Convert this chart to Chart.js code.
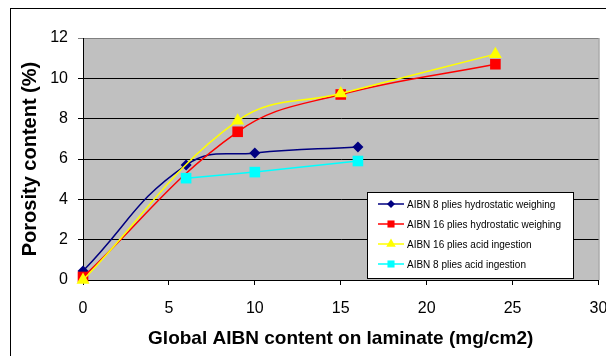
<!DOCTYPE html>
<html>
<head>
<meta charset="utf-8">
<script src="https://cdn.jsdelivr.net/npm/chart.js@4.4.1/dist/chart.umd.min.js"></script>
<style>
  html, body { margin: 0; padding: 0; background: #fff; }
  #wrap { width: 606px; height: 356px; }
</style>
</head>
<body>
<div id="wrap"><canvas id="chart" width="606" height="356"></canvas></div>
<script>
'use strict';

// Mesures : teneur en AIBN (mg/cm2) -> taux de porosité (%)
const xNavy = [0, 6, 10, 16];
const yNavy = [0.45, 5.7, 6.3, 6.6];

const xRed = [0, 9, 15, 24];
const yRed = [0.15, 7.35, 9.2, 10.7];

const xYellow = [0, 9, 15, 24];
const yYellow = [0, 7.9, 9.25, 11.2];

const xCyan = [6, 10, 16];
const yCyan = [5.05, 5.35, 5.9];

const seriesLabels = [
  'AIBN 8 plies hydrostatic weighing',
  'AIBN 16 plies hydrostatic weighing',
  'AIBN 16 plies acid ingestion',
  'AIBN 8 plies acid ingestion'
];

const xTicks = [0, 5, 10, 15, 20, 25, 30];
const yTicks = [0, 2, 4, 6, 8, 10, 12];

const FONT = '"Liberation Sans", Arial, sans-serif';

function toPoints(xs, ys) {
  return xs.map(function (x, i) {
    return { x: x, y: ys[i] };
  });
}

function serie(label, xs, ys, color, style, radius, tension, order) {
  return {
    label: label,
    data: toPoints(xs, ys),
    borderColor: color,
    backgroundColor: color,
    borderWidth: 1.5,
    pointStyle: style,
    pointRadius: radius,
    pointHoverRadius: radius,
    pointBorderWidth: 0,
    pointBackgroundColor: color,
    tension: tension,
    order: order,
    clip: false,
    fill: false
  };
}

const datasets = [
  serie(seriesLabels[0], xNavy, yNavy, '#000080', 'rectRot', 5.5, 0.45, 4),
  serie(seriesLabels[1], xRed, yRed, '#ff0000', 'rect', 7.5, 0.4, 3),
  serie(seriesLabels[2], xYellow, yYellow, '#ffff00', 'triangle', 7.5, 0.4, 2),
  serie(seriesLabels[3], xCyan, yCyan, '#00ffff', 'rect', 7.5, 0, 1)
];

// fond du graphique + zone de tracé grise
const fondPlugin = {
  id: 'fond',
  beforeDraw: function (chart) {
    const ctx = chart.ctx;
    const a = chart.chartArea;
    ctx.save();
    ctx.fillStyle = '#ffffff';
    ctx.fillRect(0, 0, chart.width, chart.height);
    ctx.fillStyle = '#c0c0c0';
    ctx.fillRect(a.left, a.top, a.right - a.left, a.bottom - a.top);
    ctx.strokeStyle = '#808080';
    ctx.lineWidth = 1;
    ctx.beginPath();
    ctx.moveTo(a.right + 0.5, a.top);
    ctx.lineTo(a.right + 0.5, a.bottom);
    ctx.stroke();
    ctx.restore();
  },
  afterDraw: function (chart) {
    const ctx = chart.ctx;
    ctx.save();
    ctx.strokeStyle = '#000000';
    ctx.lineWidth = 1;
    ctx.strokeRect(10.5, 8.5, 700, 400);
    ctx.restore();
  }
};

// légende dessinée dans la zone de tracé
const legendePlugin = {
  id: 'legende',
  afterDraw: function (chart) {
    const ctx = chart.ctx;
    const box = { x: 367.5, y: 192.5, w: 206, h: 86 };
    ctx.save();
    ctx.fillStyle = '#ffffff';
    ctx.fillRect(box.x, box.y, box.w, box.h);
    ctx.strokeStyle = '#000000';
    ctx.lineWidth = 1;
    ctx.strokeRect(box.x, box.y, box.w, box.h);

    ctx.font = '10px ' + FONT;
    ctx.textBaseline = 'middle';
    ctx.textAlign = 'left';
    const legendRadius = [4, 5, 5.5, 5];
    chart.data.datasets.forEach(function (ds, i) {
      const y = 204 + i * 20;
      ctx.strokeStyle = ds.borderColor;
      ctx.lineWidth = 1.5;
      ctx.beginPath();
      ctx.moveTo(378, y);
      ctx.lineTo(404, y);
      ctx.stroke();
      ctx.fillStyle = ds.borderColor;
      Chart.helpers.drawPoint(ctx, {
        pointStyle: ds.pointStyle,
        radius: legendRadius[i],
        rotation: 0,
        borderWidth: 0
      }, 391, y);
      ctx.fillStyle = '#000000';
      ctx.fillText(ds.label, 407, y + 1);
    });
    ctx.restore();
  }
};

new Chart(document.getElementById('chart').getContext('2d'), {
  type: 'line',
  data: { datasets: datasets },
  plugins: [fondPlugin, legendePlugin],
  options: {
    responsive: false,
    animation: false,
    events: [],
    layout: { padding: { left: 10, top: 38, right: 7, bottom: 0 } },
    plugins: {
      legend: { display: false },
      tooltip: { enabled: false }
    },
    scales: {
      x: {
        type: 'linear',
        min: 0,
        max: 30,
        afterBuildTicks: function (s) {
          s.ticks = xTicks.map(function (v) { return { value: v }; });
        },
        afterFit: function (s) {
          s.height = 76;
          s.paddingLeft = 0;
          s.paddingRight = 0;
        },
        grid: {
          drawOnChartArea: false,
          drawTicks: true,
          tickLength: 5,
          color: '#000000'
        },
        border: { color: '#000000' },
        ticks: {
          padding: 14,
          maxRotation: 0,
          color: '#000000',
          font: { family: FONT, size: 16 }
        },
        title: {
          display: true,
          text: 'Global AIBN content on laminate (mg/cm2)',
          color: '#000000',
          padding: 6,
          font: { family: FONT, size: 19, weight: 'bold' }
        }
      },
      y: {
        type: 'linear',
        min: 0,
        max: 12,
        afterBuildTicks: function (s) {
          s.ticks = yTicks.map(function (v) { return { value: v }; });
        },
        afterFit: function (s) {
          s.width = 73;
          s.paddingTop = 0;
          s.paddingBottom = 0;
        },
        grid: {
          drawTicks: true,
          tickLength: 5,
          color: function (c) {
            return c.tick && c.tick.value === 12 ? '#808080' : '#000000';
          }
        },
        border: { color: '#000000' },
        ticks: {
          padding: 10,
          color: '#000000',
          font: { family: FONT, size: 16 }
        },
        title: {
          display: true,
          text: 'Porosity content (%)',
          color: '#000000',
          padding: 8,
          font: { family: FONT, size: 20, weight: 'bold' }
        }
      }
    }
  }
});
</script>
</body>
</html>
